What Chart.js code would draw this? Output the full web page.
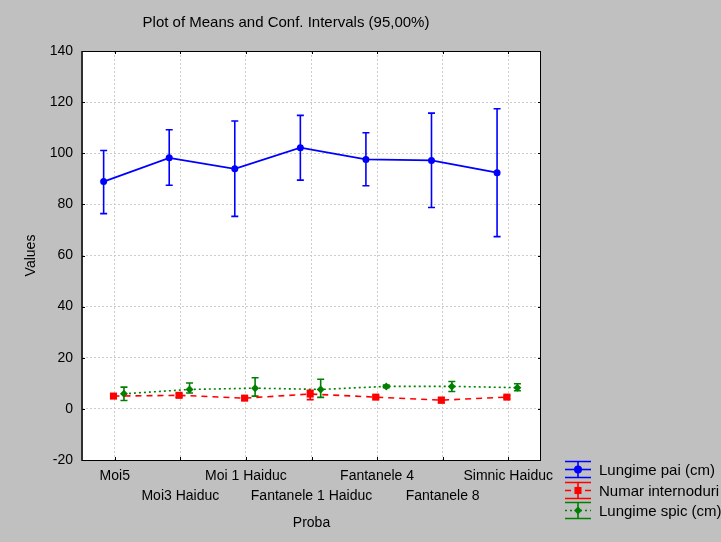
<!DOCTYPE html>
<html><head><meta charset="utf-8">
<script src="https://cdn.jsdelivr.net/npm/chart.js@4.4.0/dist/chart.umd.min.js"></script>
<style>html,body{margin:0;padding:0;background:#c0c0c0;overflow:hidden}canvas{display:block}</style>
</head><body>
<canvas id="c" width="721" height="542"></canvas>
<script>
const chartTitle = "Plot of Means and Conf. Intervals (95,00%)";
const xTitle = "Proba";
const yTitle = "Values";
const categories = ["Moi5","Moi3 Haiduc","Moi 1 Haiduc","Fantanele 1 Haiduc","Fantanele 4","Fantanele 8","Simnic Haiduc"];
const seriesNames = ["Lungime pai (cm)","Numar internoduri","Lungime spic (cm)"];
const paiMean = [88.9, 98.2, 93.9, 102.2, 97.6, 97.2, 92.4];
const paiLow  = [76.4, 87.5, 75.3, 89.5, 87.3, 78.8, 67.4];
const paiHigh = [101.1, 109.2, 112.6, 114.8, 108.0, 115.7, 117.4];
const nodMean = [5.0, 5.3, 4.2, 5.8, 4.6, 3.4, 4.6];
const nodLow  = [4.3, 4.6, 3.5, 3.6, 4.0, 2.4, 4.0];
const nodHigh = [5.7, 6.0, 4.9, 7.3, 5.2, 4.4, 5.2];
const spicMean = [5.9, 7.6, 8.1, 7.6, 8.8, 8.8, 8.3];
const spicLow  = [3.3, 6.2, 5.0, 4.5, 8.3, 6.8, 7.1];
const spicHigh = [8.5, 10.1, 12.2, 11.6, 9.3, 10.7, 9.8];
const yTicks = [-20, 0, 20, 40, 60, 80, 100, 120, 140];

const FONT = '"Liberation Sans", Arial, sans-serif';
const BLUE = '#0000ff', RED = '#ff0000', GREEN = '#008000';
const offsets = [-0.17, -0.02, 0.14];

function pts(arr, off) { return arr.map((v, i) => ({x: i + off, y: v})); }

const errorBars = {
  id: 'errorBars',
  beforeDatasetDraw(chart, args) {
    const ds = chart.data.datasets[args.index];
    const {ctx, scales: {x, y}} = chart;
    ctx.save();
    ctx.strokeStyle = ds.borderColor; ctx.lineWidth = 1.6; ctx.setLineDash([]);
    ds.errLow.forEach((lo, i) => {
      const hi = ds.errHigh[i];
      const px = x.getPixelForValue(ds.data[i].x);
      const p1 = y.getPixelForValue(lo), p2 = y.getPixelForValue(hi);
      ctx.beginPath();
      ctx.moveTo(px, p1); ctx.lineTo(px, p2);
      ctx.moveTo(px - 3.5, p1); ctx.lineTo(px + 3.5, p1);
      ctx.moveTo(px - 3.5, p2); ctx.lineTo(px + 3.5, p2);
      ctx.stroke();
    });
    ctx.restore();
  }
};

const decor = {
  id: 'decor',
  beforeDraw(chart) {
    const {ctx, chartArea: a} = chart;
    ctx.save();
    ctx.fillStyle = '#ffffff';
    ctx.fillRect(a.left, a.top, a.right - a.left, a.bottom - a.top);
    ctx.restore();
  },
  afterDraw(chart) {
    const {ctx, chartArea: a, scales: {x, y}} = chart;
    ctx.save();
    ctx.strokeStyle = '#000'; ctx.lineWidth = 1; ctx.setLineDash([]);
    ctx.strokeRect(a.left + 0.5, a.top + 0.5, a.right - a.left - 1, a.bottom - a.top);
    ctx.strokeStyle = '#303030'; ctx.lineWidth = 2;
    ctx.beginPath(); ctx.moveTo(a.left, a.top); ctx.lineTo(a.left, a.bottom + 1); ctx.stroke();
    ctx.strokeStyle = '#000'; ctx.lineWidth = 1;
    ctx.beginPath();
    yTicks.forEach(v => {
      const py = Math.round(y.getPixelForValue(v)) + 0.5;
      ctx.moveTo(a.left, py); ctx.lineTo(a.left + 3, py);
      ctx.moveTo(a.right, py); ctx.lineTo(a.right - 3, py);
    });
    categories.forEach((c, i) => {
      const px = Math.round(x.getPixelForValue(i)) + 0.5;
      ctx.moveTo(px, a.top); ctx.lineTo(px, a.top + 3);
      ctx.moveTo(px, a.bottom); ctx.lineTo(px, a.bottom - 3);
    });
    ctx.stroke();
    ctx.fillStyle = '#000';
    ctx.font = '15px ' + FONT;
    ctx.textAlign = 'center'; ctx.textBaseline = 'middle';
    ctx.fillText(chartTitle, 286, 23);
    const colors = [BLUE, RED, GREEN];
    const dashes = [[], [6, 4], [2, 3]];
    const styles = ['circle', 'rect', 'rectRot'];
    const mids = [469.5, 490.5, 510.5];
    const lx0 = 565, lx1 = 591, lxc = 578;
    seriesNames.forEach((name, k) => {
      const m = mids[k];
      ctx.strokeStyle = colors[k]; ctx.fillStyle = colors[k];
      ctx.lineWidth = 1.6; ctx.setLineDash([]);
      ctx.beginPath();
      ctx.moveTo(lx0, m - 8); ctx.lineTo(lx1, m - 8);
      ctx.moveTo(lx0, m + 8); ctx.lineTo(lx1, m + 8);
      ctx.moveTo(lxc, m - 8); ctx.lineTo(lxc, m + 8);
      ctx.stroke();
      ctx.setLineDash(dashes[k]);
      ctx.beginPath(); ctx.moveTo(lx0, m); ctx.lineTo(lx1, m); ctx.stroke();
      ctx.setLineDash([]);
      Chart.helpers.drawPoint(ctx, {pointStyle: styles[k], radius: k === 1 ? 5 : 4, borderWidth: 0}, lxc, m);
      ctx.fillStyle = '#000';
      ctx.font = '15px ' + FONT;
      ctx.textAlign = 'left'; ctx.textBaseline = 'middle';
      ctx.fillText(name, 599, m + 1);
    });
    ctx.restore();
  }
};

new Chart(document.getElementById('c'), {
  type: 'line',
  data: {
    datasets: [
      {label: seriesNames[0], data: pts(paiMean, offsets[0]), errLow: paiLow, errHigh: paiHigh,
       borderColor: BLUE, backgroundColor: BLUE, borderWidth: 1.8, pointStyle: 'circle', pointRadius: 3.5,
       pointBorderWidth: 0, tension: 0},
      {label: seriesNames[1], data: pts(nodMean, offsets[1]), errLow: nodLow, errHigh: nodHigh,
       borderColor: RED, backgroundColor: RED, borderWidth: 1.6, borderDash: [6, 5], pointStyle: 'rect', pointRadius: 5,
       pointBorderWidth: 0, tension: 0},
      {label: seriesNames[2], data: pts(spicMean, offsets[2]), errLow: spicLow, errHigh: spicHigh,
       borderColor: GREEN, backgroundColor: GREEN, borderWidth: 1.6, borderDash: [2, 3], pointStyle: 'rectRot', pointRadius: 4,
       pointBorderWidth: 0, tension: 0}
    ]
  },
  options: {
    responsive: false,
    animation: false,
    devicePixelRatio: 1,
    layout: {padding: {top: 51, right: 180, bottom: 0, left: 0}},
    plugins: {legend: {display: false}, title: {display: false}, tooltip: {enabled: false}},
    scales: {
      x: {
        type: 'linear', min: -0.5, max: 6.5,
        afterBuildTicks: s => { s.ticks = categories.map((c, i) => ({value: i})); },
        afterFit: s => { s.height = 82; },
        ticks: {
          autoSkip: false, maxRotation: 0, minRotation: 0, padding: 6, color: '#000',
          font: {family: FONT, size: 14, lineHeight: '20px'},
          callback: v => { const i = Math.round(v); return i % 2 === 0 ? [categories[i], ''] : ['', categories[i]]; }
        },
        grid: {color: '#cccccc', lineWidth: 1, drawTicks: false},
        border: {display: false, dash: [2, 2]},
        title: {display: true, text: xTitle, color: '#000', font: {family: FONT, size: 14}, padding: {top: 0, bottom: 10}}
      },
      y: {
        min: -20, max: 140,
        afterBuildTicks: s => { s.ticks = yTicks.map(v => ({value: v})); },
        afterFit: s => { s.width = 82; },
        ticks: {padding: 9, color: '#000', font: {family: FONT, size: 14}},
        grid: {color: '#cccccc', lineWidth: 1, drawTicks: false},
        border: {display: false, dash: [2, 2]},
        title: {display: true, text: yTitle, color: '#000', font: {family: FONT, size: 14}, padding: {top: 23, bottom: 0}}
      }
    }
  },
  plugins: [errorBars, decor]
});
</script>
</body></html>
